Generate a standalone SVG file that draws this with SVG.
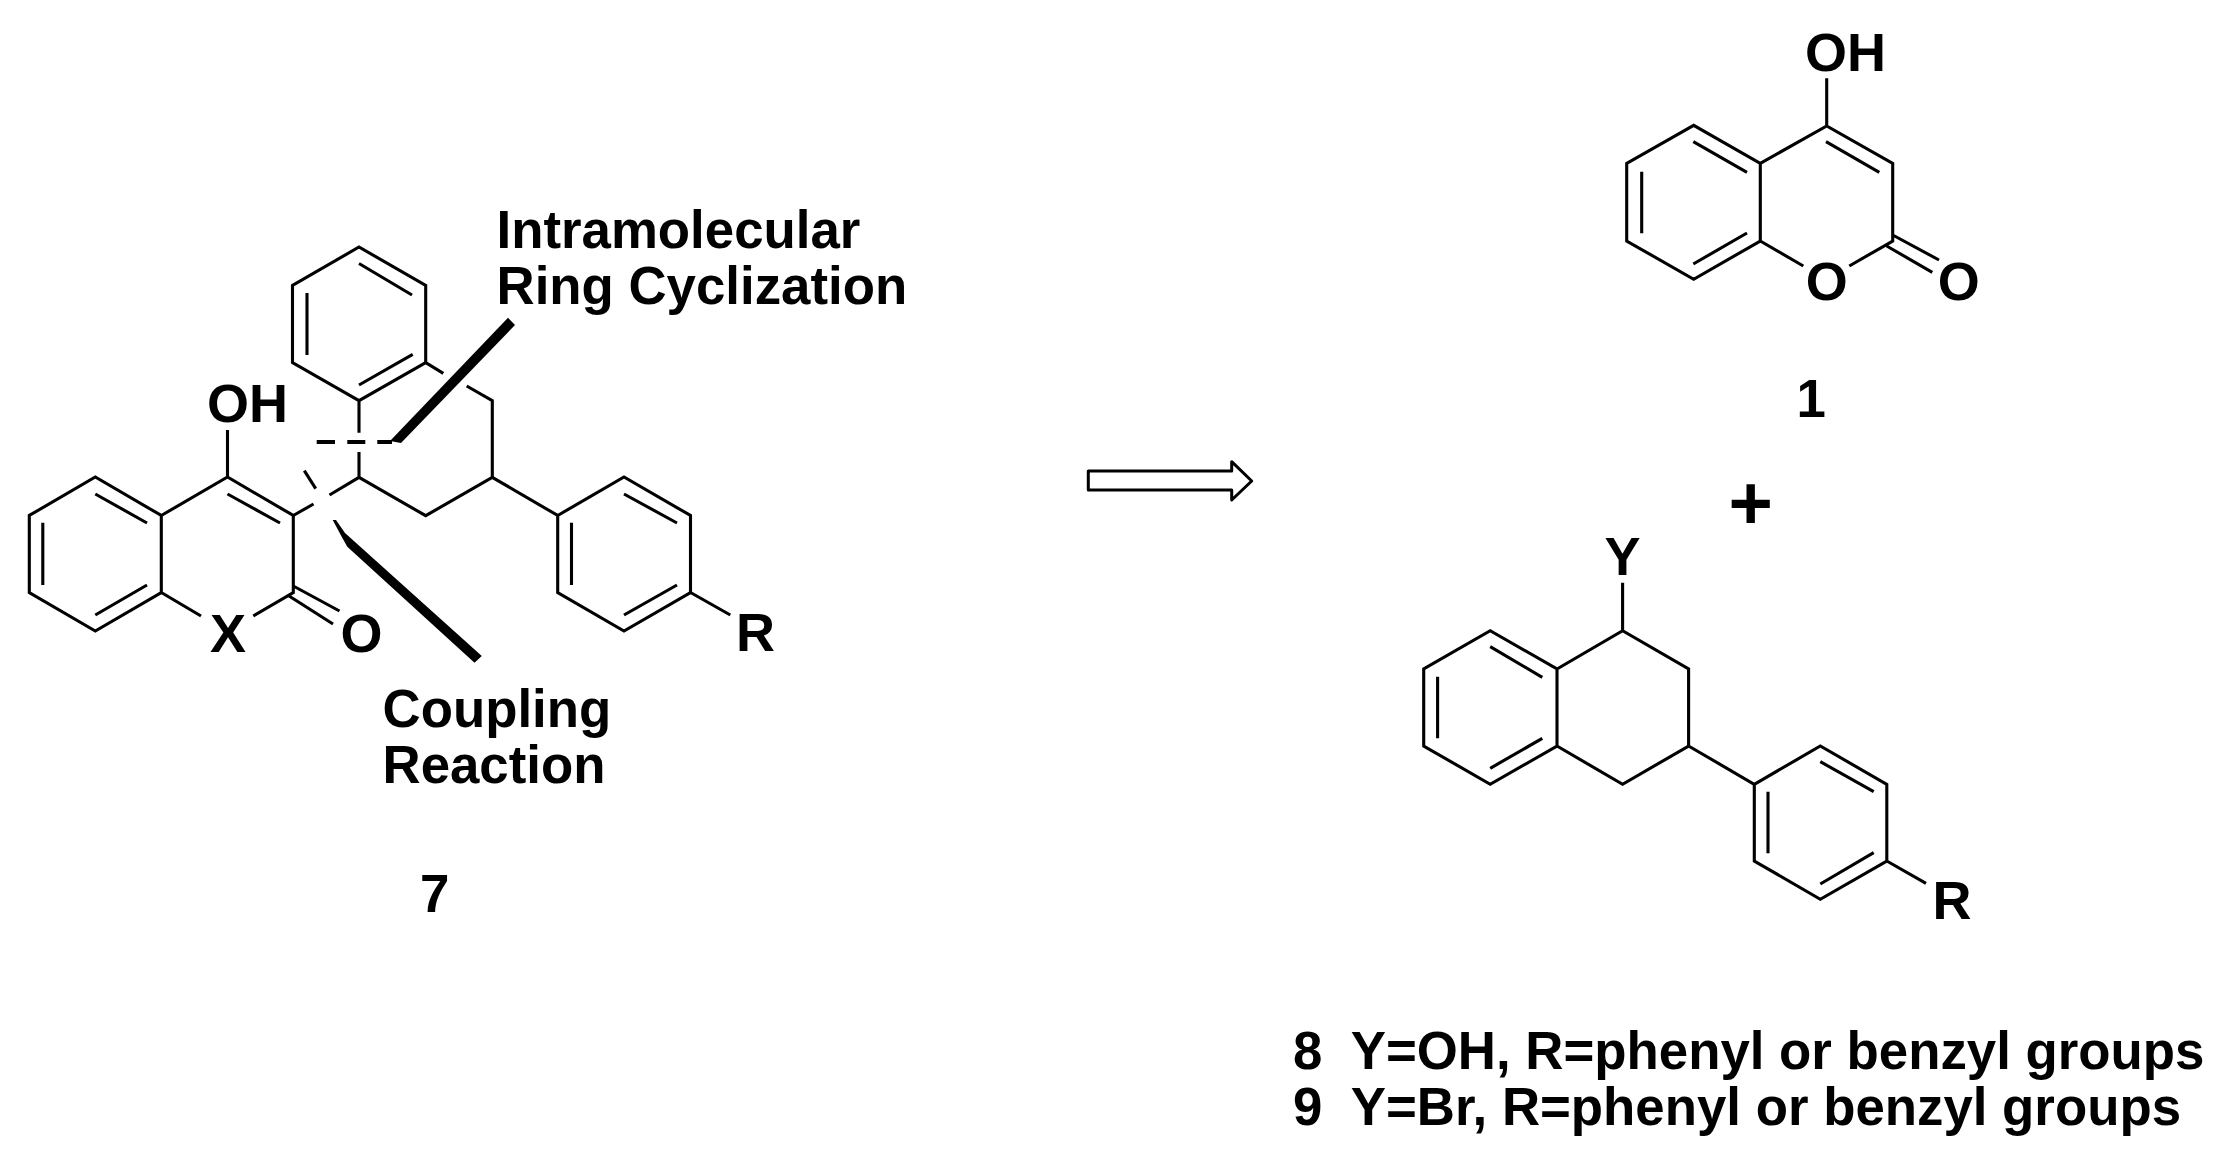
<svg xmlns="http://www.w3.org/2000/svg" width="2237" height="1162" viewBox="0 0 2237 1162">
<style>
.b{fill:none;stroke:#000;stroke-width:3.1;stroke-linecap:butt;stroke-linejoin:miter}
.d{stroke-width:3.8}
.t{font-family:"Liberation Sans",Arial,sans-serif;font-weight:700;font-size:52.8px;fill:#000;white-space:pre}
.a{font-size:54px}
.m{text-anchor:middle}
</style>
<rect width="2237" height="1162" fill="#fff"/>
<g id="compound-7">
<path class="b" d="M29.3 515.5V592.5L95.3 631L161.3 592.5V515.5L95.3 477ZM161.3 515.5L227.5 477L293.3 515.5V592.5L253.3 616M161.3 592.5L201 616M95.3 494L147 523M42.8 522.7V585M95.3 615L147 585M227.5 494L280 523M227.5 430V477"/>
<path class="b" d="M293.3 586L339.5 611M287.5 595L333 624"/>
<path class="b" d="M293.3 515.5L313.5 504M329.5 495L359 477.3L425.7 515.7L492.3 477.3V400.7L466.7 386M443.3 373.3L425.7 362.7V285.5L359 247L292.5 285.5V362.7L359 400.7L425.7 362.7M359 263.5L412 295M307 293V355M359 385L412.7 354.3M359 400.7V432.7M359 452V477.3"/>
<path class="b" d="M492.3 477.3L557.7 515.5V592.5L624 631L690.5 592.5V515.5L624 477L557.7 515.5M624 494L677 523M571.5 522.7V585M624 615L677 585M690.5 592.5L730.3 615"/>
<path class="b d" d="M316.7 442H335M347.3 442H365.3M377.3 442H392"/>
<path class="b" d="M304.3 470.7L315.7 488.7"/>
<polygon points="390,441 401,443 515,325 508,317.7"/>
<polygon points="332.7,520 336,520 345,533 481.8,656 474.5,662.7 347.3,546.7 341.7,536.7"/>
<text class="t a" x="207" y="421.5">OH</text>
<text class="t a m" x="228" y="651.5">X</text>
<text class="t a m" x="361.5" y="652">O</text>
<text class="t a" x="736" y="651">R</text>
<text class="t" x="496.5" y="248">Intramolecular</text>
<text class="t" x="496.5" y="303.5">Ring Cyclization</text>
<text class="t" x="382.5" y="726.7">Coupling</text>
<text class="t" x="382.5" y="782.7">Reaction</text>
<text class="t" x="420" y="912.3">7</text>
</g>
<g id="compound-1">
<path class="b" d="M1626.7 163.3V241L1693.7 279.3L1760.3 241V163.3L1693.7 125.3ZM1760.3 163.3L1826.7 126L1892.7 163.3V241L1849.3 266M1760.3 241L1803.3 266M1693.3 141.7L1747 172.3M1641.7 171.7V233.3M1693.3 264L1747 233M1826 141.7L1879.3 172.3M1826.7 78.3V126M1892.7 235L1939 260M1886.7 246L1932.3 272.3"/>
<text class="t a" x="1805" y="71">OH</text>
<text class="t a m" x="1826.7" y="299.5">O</text>
<text class="t a m" x="1958.7" y="299.5">O</text>
<text class="t" x="1796.5" y="417">1</text>
</g>
<text id="plus" class="t m" x="1750.8" y="528.5" style="font-size:76px">+</text>
<g id="compound-8-9">
<path class="b" d="M1423.7 669V746L1490.2 784.3L1557 746V669L1490.2 630.7ZM1557 669L1622.6 630.7L1688.6 669V746L1622.6 784.3L1557 746M1688.6 746L1754.3 784.3V861L1820.3 899.3L1886.8 861V784.3L1820.3 746L1754.3 784.3M1886.8 861L1926 883.3M1622.6 630.7V582.7M1490.2 646.7L1542.3 677.3M1437.6 676.7V738.3M1490.2 768.3L1542.3 738.3M1820.3 761.7L1873.7 791.7M1768 791.7V853.3M1820.3 884L1873.7 852.7"/>
<text class="t a m" x="1622.6" y="575">Y</text>
<text class="t a" x="1932.5" y="919.3">R</text>
<text class="t" x="1293" y="1068.7" xml:space="preserve">8  Y=OH, R=phenyl or benzyl groups</text>
<text class="t" x="1293" y="1124.7" xml:space="preserve">9  Y=Br, R=phenyl or benzyl groups</text>
</g>
<g id="connectors">
<polygon points="1088.3,471 1231.7,471 1231.7,461.7 1251.7,481 1231.7,500 1231.7,490 1088.3,490" fill="#fff" stroke="#000" stroke-width="3" stroke-linejoin="round"/>
</g>
</svg>
